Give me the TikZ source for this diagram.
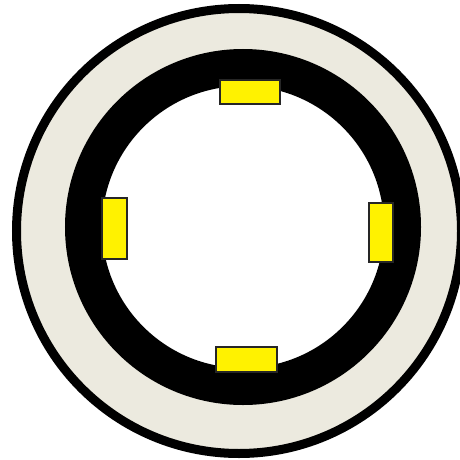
\documentclass[tikz,border=0pt]{standalone}
\begin{document}
\begin{tikzpicture}[x=1pt,y=-1pt,
  yrect/.style={draw=black!85,line width=1.2pt,fill=yellow,inner sep=0pt,minimum width=#1},
  yrect/.default=0pt]
\definecolor{beige}{HTML}{ECEADF}
\useasboundingbox (0,0) rectangle (460,460);
\clip (0,0) rectangle (460,460);
% outer disc
\draw[fill=beige,line width=9pt] (239,231) circle[radius=222.5pt];
% black ring
\fill[white] (243,227) circle[radius=160pt];
\draw[line width=37pt] (243,227) circle[radius=159.5pt];
% yellow blocks
\node[yrect, minimum width=60pt, minimum height=24pt] (top) at (250,92) {};
\node[yrect, minimum width=61pt, minimum height=25pt] (bottom) at (246.5,359.5) {};
\node[yrect, minimum width=25pt, minimum height=61pt] (left) at (114.5,228.5) {};
\node[yrect, minimum width=24pt, minimum height=59pt] (right) at (381,232.5) {};
\end{tikzpicture}
\end{document}
